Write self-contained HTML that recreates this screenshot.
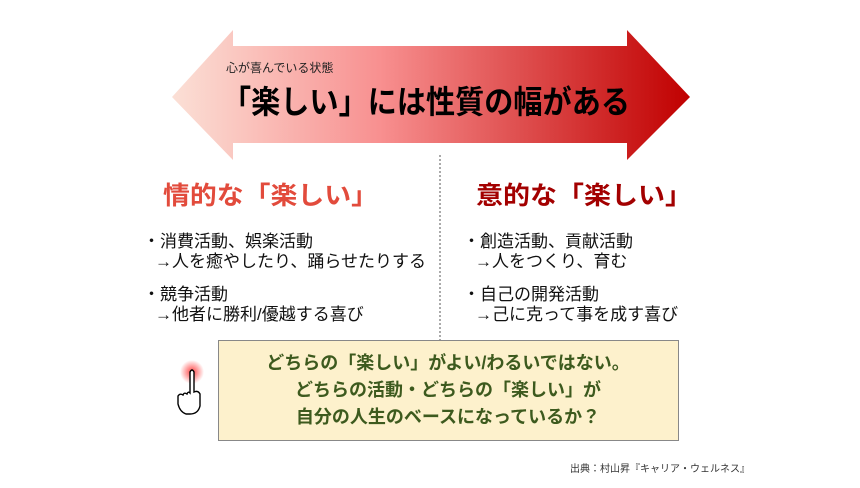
<!DOCTYPE html>
<html><head><meta charset="utf-8"><style>
body{margin:0;width:860px;height:483px;background:#fff;overflow:hidden;font-family:"Liberation Sans","Noto Sans CJK JP",sans-serif}
</style></head><body>
<svg width="860" height="483" xmlns="http://www.w3.org/2000/svg" font-family="Liberation Sans, Noto Sans CJK JP, sans-serif">
<defs>
<linearGradient id="g" x1="0" x2="1" y1="0" y2="0">
<stop offset="0" stop-color="#fbe0d6"/><stop offset="0.4" stop-color="#f89090"/><stop offset="1" stop-color="#c00000"/>
</linearGradient>
<radialGradient id="r"><stop offset="0" stop-color="#f44"/><stop offset="1" stop-color="#f44" stop-opacity="0"/></radialGradient>
</defs>
<polygon points="172,97 233,30 233,46 627,46 627,30 690,97 627,160 627,143 233,143 233,160" fill="url(#g)"/>
<text x="226" y="72" font-size="12" fill="#222">心が喜んでいる状態</text>
<text x="222" y="113" font-size="32" font-weight="bold" fill="#000" textLength="408" lengthAdjust="spacingAndGlyphs">「楽しい」には性質の幅がある</text>
<line x1="440" y1="155" x2="440" y2="341" stroke="#555" stroke-dasharray="2,2"/>
<text x="163" y="204" font-size="25" font-weight="bold" fill="#e24b3c" textLength="215" lengthAdjust="spacingAndGlyphs">情的な「楽しい」</text>
<text x="476" y="204" font-size="25" font-weight="bold" fill="#a30000" textLength="216" lengthAdjust="spacingAndGlyphs">意的な「楽しい」</text>
<g font-size="17" fill="#111">
<text x="143" y="247">・消費活動、娯楽活動</text>
<text x="155" y="267">→人を癒やしたり、踊らせたりする</text>
<text x="143" y="300">・競争活動</text>
<text x="155" y="320">→他者に勝利/優越する喜び</text>
<text x="463" y="247">・創造活動、貢献活動</text>
<text x="475" y="267">→人をつくり、育む</text>
<text x="463" y="300">・自己の開発活動</text>
<text x="475" y="320">→己に克って事を成す喜び</text>
</g>
<rect x="218.5" y="340.5" width="460" height="100" fill="#fdf1cc" stroke="#888"/>
<g font-size="18" font-weight="bold" fill="#3d5a1e" text-anchor="middle">
<text x="448" y="369">どちらの「楽しい」がよい/わるいではない。</text>
<text x="448" y="396">どちらの活動・どちらの「楽しい」が</text>
<text x="448" y="423">自分の人生のベースになっているか？</text>
</g>
<circle cx="192" cy="372" r="12" fill="url(#r)"/>
<path d="M190,372 q2,-4 4,0 v20 q4,-2 6,2 v12 q-2,8 -10,8 h-4 q-6,-2 -8,-10 v-8 q2,-3 5,-1 q1,-3 4,-1 q1,-3 3,-1 z" fill="#fff" stroke="#000" stroke-width="1.4"/>
<text x="570" y="472" font-size="10" fill="#333">出典：村山昇『キャリア・ウェルネス』</text>
</svg>
</body></html>
